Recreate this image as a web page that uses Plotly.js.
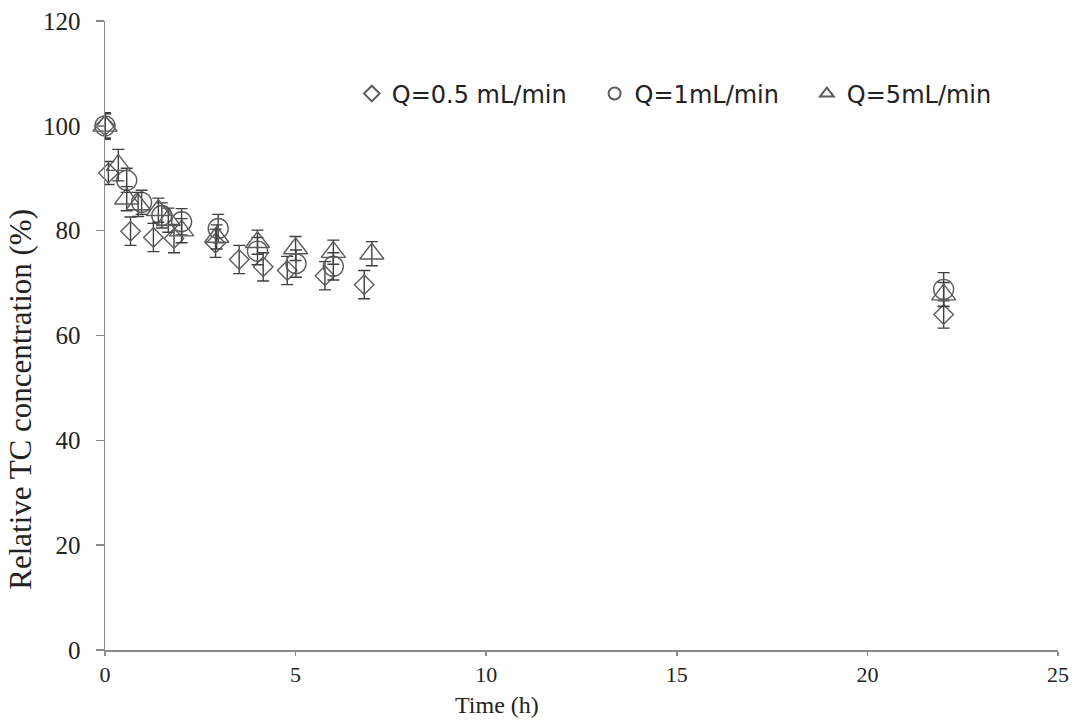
<!DOCTYPE html>
<html>
<head>
<meta charset="utf-8">
<script src="https://cdn.plot.ly/plotly-3.0.1.min.js"></script>
<style>html,body{margin:0;padding:0;background:#fff;}#chart{width:1074px;height:720px;}</style>
</head>
<body>
<div id="chart"></div>
<script>
// Q = 0.5 mL/min (diamonds)
const tQ05 = [0, 0.09, 0.67, 1.27, 1.81, 2.9, 3.52, 4.15, 4.78, 5.77, 6.8, 22];
const yQ05 = [100, 91, 79.9, 78.7, 78.5, 77.6, 74.5, 73.1, 72.4, 71.4, 69.7, 64];
const eQ05 = [2.5, 2.2, 2.7, 2.7, 2.7, 2.7, 2.7, 2.7, 2.7, 2.7, 2.7, 2.6];
// Q = 1 mL/min (circles)
const tQ1 = [0, 0.57, 0.96, 1.49, 2.01, 2.97, 4.0, 5.01, 5.99, 22];
const yQ1 = [100, 89.6, 85.4, 82.9, 81.7, 80.4, 76.1, 73.7, 73.2, 68.8];
const eQ1 = [2.5, 2.3, 2.3, 2.4, 2.5, 2.7, 2.6, 2.6, 2.6, 3.2];
// Q = 5 mL/min (triangles)
const tQ5 = [0, 0.35, 0.57, 0.87, 1.4, 1.66, 2.01, 2.93, 4.0, 5.0, 5.99, 7.0, 22];
const yQ5 = [100, 92.5, 86.1, 85, 83.9, 82, 80, 78.8, 77.8, 76.6, 75.9, 75.6, 67.8];
const eQ5 = [2.3, 3.0, 2.3, 2.3, 2.3, 2.3, 2.3, 2.3, 2.3, 2.3, 2.3, 2.3, 2.3];
const names = ["Q=0.5 mL/min", "Q=1mL/min", "Q=5mL/min"];
const xTicks = [0, 5, 10, 15, 20, 25];
const yTicks = [0, 20, 40, 60, 80, 100, 120];
const xTitle = "Time (h)";
const yTitle = "Relative TC concentration (%)";

const markerColor = "#5c5c5c";
const barColor = "#3f3f3f";
const pad = "\u00a0\u00a0\u00a0";
function mk(x, y, e, name, symbol, size, last) {
  return {
    x: x, y: y, name: last ? name : name + pad, type: "scatter", mode: "markers",
    marker: {symbol: symbol, size: size, color: markerColor, line: {color: markerColor, width: 1.4}},
    error_y: {type: "data", array: e, visible: true, color: barColor, thickness: 1.4, width: 6},
    cliponaxis: false
  };
}
const data = [
  mk(tQ05, yQ05, eQ05, names[0], "diamond-open", 15, false),
  mk(tQ1, yQ1, eQ1, names[1], "circle-open", 20, false),
  mk(tQ5, yQ5, eQ5, names[2], "triangle-up-open", 21, true)
];
const axisColor = "#8a8a8a";
const serif = "Liberation Serif, Times New Roman, serif";
const layout = {
  width: 1074, height: 720,
  margin: {l: 105, r: 16, t: 21, b: 70},
  paper_bgcolor: "#fff", plot_bgcolor: "#fff",
  showlegend: true,
  legend: {
    orientation: "h", x: 0.259, y: 0.884, xanchor: "left", yanchor: "middle",
    font: {family: "DejaVu Sans, sans-serif", size: 24, color: "#222"},
    itemsizing: "constant", bgcolor: "rgba(0,0,0,0)"
  },
  xaxis: {
    range: [0, 25], tickvals: xTicks, ticktext: xTicks.map(String),
    showline: true, linecolor: axisColor, linewidth: 1.5,
    ticks: "outside", ticklen: 4, tickcolor: axisColor, tickwidth: 1.5,
    showgrid: false, zeroline: false,
    tickfont: {family: serif, size: 22, color: "#222"}
  },
  yaxis: {
    range: [0, 120], tickvals: yTicks, ticktext: yTicks.map(String),
    showline: true, linecolor: axisColor, linewidth: 1.5,
    ticks: "outside", ticklen: 8, tickcolor: axisColor, tickwidth: 1.5,
    showgrid: false, zeroline: false,
    tickfont: {family: serif, size: 25, color: "#222"},
    ticklabelstandoff: 10
  },
  annotations: [
    {text: xTitle, xref: "paper", yref: "paper", x: 0.411, y: -0.0874, xanchor: "center", yanchor: "middle",
     showarrow: false, borderpad: 0, font: {family: serif, size: 24, color: "#222"}},
    {text: yTitle, xref: "paper", yref: "paper", x: -0.088, y: 0.398, xanchor: "center", yanchor: "middle",
     textangle: -90, showarrow: false, font: {family: serif, size: 31, color: "#222"}}
  ]
};
Plotly.newPlot("chart", data, layout, {displayModeBar: false, staticPlot: true});
</script>
</body>
</html>
